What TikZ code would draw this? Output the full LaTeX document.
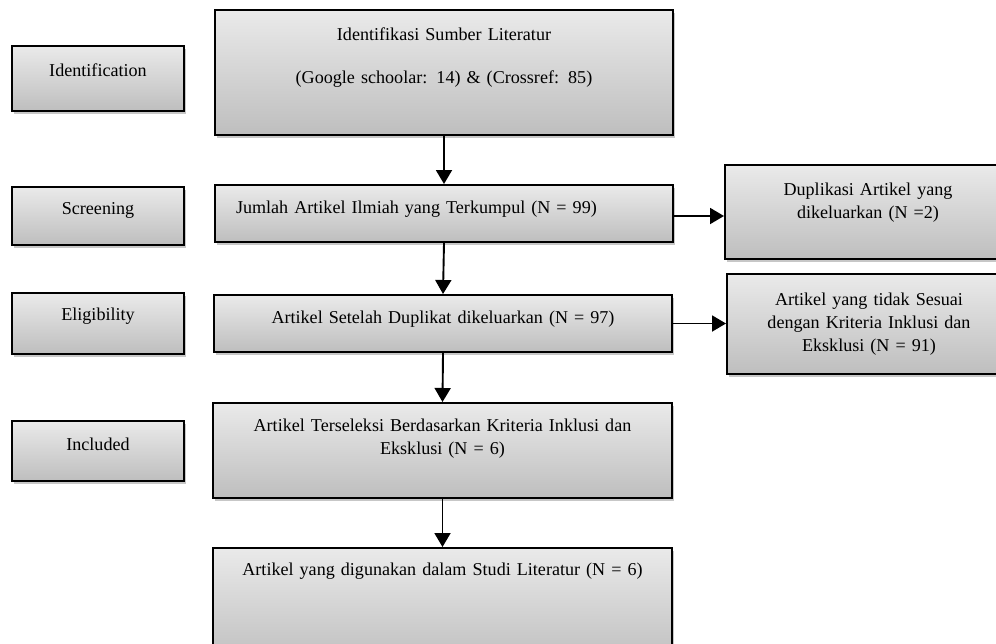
\documentclass[tikz,border=0pt]{standalone}
\usepackage{fontspec}
\setmainfont{Liberation Serif}
\usetikzlibrary{shadows,arrows.meta}
\definecolor{boxtop}{RGB}{234,234,234}
\definecolor{boxbot}{RGB}{190,190,190}
\tikzset{
  box/.style={draw=black, line width=2pt, top color=boxtop, bottom color=boxbot,
    inner sep=0pt, align=center, anchor=north west,
    font=\fontsize{18.1}{23}\selectfont,
    drop shadow={opacity=0.22, shadow xshift=2pt, shadow yshift=-3pt, fill=black}},
  flow/.style={line width=1.9pt, -{Triangle[width=16pt,length=14pt]}},
}
\begin{document}
\begin{tikzpicture}[x=1pt,y=-1pt]
\useasboundingbox (0,0) rectangle (996,643);
\clip (0,0) rectangle (996,643);
% stage labels
\node[box, text width=172pt, text height=30pt, text depth=35pt] (idl) at (11,45) {Identification};
\node[box, text width=172pt, text height=27pt, text depth=31pt] (scr) at (11,186) {Screening};
\node[box, text width=172pt, text height=27pt, text depth=34pt] (eli) at (11,292) {Eligibility};
\node[box, text width=172pt, text height=29pt, text depth=31pt] (inc) at (11,420) {Included};
% main flow
\node[box, text width=458pt, text height=30pt, text depth=95pt] (src) at (214,9)
  {Identifikasi Sumber Literatur\\[20pt](Google schoolar: 14) \& (Crossref: 85)};
\node[box, text width=458pt, text height=28pt, text depth=29pt, align=left] (jml) at (214,184)
  {\hspace*{21pt}Jumlah Artikel Ilmiah yang Terkumpul (N = 99)};
\node[box, text width=458pt, text height=28pt, text depth=29pt] (stl) at (213,294)
  {Artikel Setelah Duplikat dikeluarkan (N = 97)};
\node[box, text width=459pt, text height=28pt, text depth=67pt] (sel) at (212,402)
  {Artikel Terseleksi Berdasarkan Kriteria Inklusi dan\\Eksklusi (N = 6)};
\node[box, text width=459pt, text height=27pt, text depth=90pt] (guna) at (212,547)
  {Artikel yang digunakan dalam Studi Literatur (N = 6)};
% excluded
\node[box, text width=286pt, text height=30pt, text depth=64pt] (dup) at (724,164)
  {Duplikasi Artikel yang\\dikeluarkan (N =2)};
\node[box, text width=284pt, text height=31pt, text depth=69pt] (ses) at (726,273)
  {Artikel yang tidak Sesuai\\dengan Kriteria Inklusi dan\\Eksklusi (N = 91)};
% connectors
\draw[flow] (src.south) -- (jml.north);
\draw[flow] (jml.south) -- (stl.north);
\draw[flow] (stl.south) -- (sel.north);
\draw[flow] (sel.south) -- (guna.north);
\draw[flow] ([yshift=-2.5pt]jml.east) -- ([yshift=-2.5pt]jml.east -| dup.west);
\draw[flow] (stl.east) -- (stl.east -| ses.west);
\end{tikzpicture}
\end{document}
